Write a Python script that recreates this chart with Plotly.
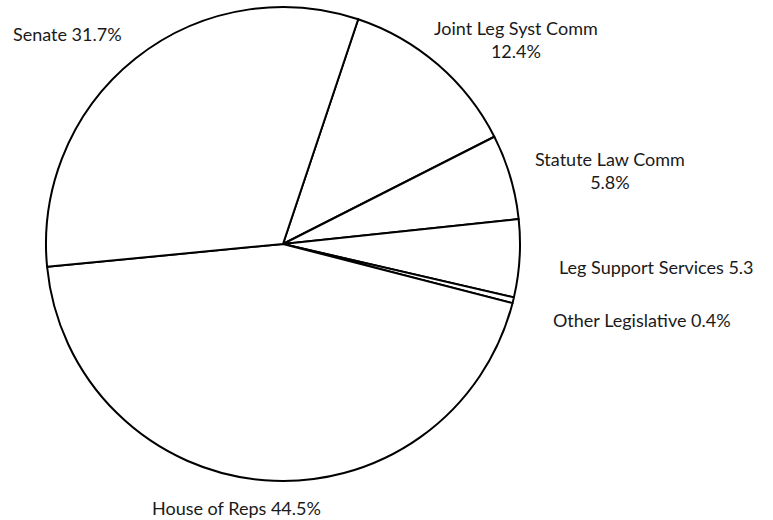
import plotly.graph_objects as go

# Legislative budget shares (percent), listed clockwise from the slice at 12 o'clock
slice_names = ["Joint Leg Syst Comm", "Statute Law Comm", "Leg Support Services",
               "Other Legislative", "House of Reps", "Senate"]
slice_values = [12.4, 5.8, 5.3, 0.4, 44.5, 31.7]
# Label wording as printed next to each slice
label_texts = ["Joint Leg Syst Comm<br>12.4%", "Statute Law Comm<br>5.8%",
               "Leg Support Services 5.3", "Other Legislative 0.4%",
               "House of Reps 44.5%", "Senate 31.7%"]

W, H = 773, 520
cx, cy, r = 283, 244, 237  # pie centre and radius in pixels

fig = go.Figure(go.Pie(
    labels=slice_names,
    values=slice_values,
    sort=False,
    direction="clockwise",
    rotation=18.5,
    textinfo="none",
    hoverinfo="label+value",
    marker=dict(colors=["white"] * len(slice_values),
                line=dict(color="black", width=2)),
    domain=dict(x=[(cx - r) / W, (cx + r) / W],
                y=[(H - cy - r) / H, (H - cy + r) / H]),
    showlegend=False,
))

# label anchor points (pixels from top-left) and horizontal alignment
label_pos = [(516, 40, "center"), (610, 171, "center"), (557, 267, "left"),
             (551, 320, "left"), (236, 508, "center"), (11, 34, "left")]

for text, (px, py, anchor) in zip(label_texts, label_pos):
    fig.add_annotation(
        x=px / W, y=1 - py / H, xref="paper", yref="paper",
        text=text, showarrow=False, xanchor=anchor, yanchor="middle",
        align="center", font=dict(family="Lato, Open Sans, sans-serif", size=18, color="#1a1a1a"),
    )

fig.update_layout(
    width=W, height=H,
    margin=dict(l=0, r=0, t=0, b=0),
    paper_bgcolor="white", plot_bgcolor="white",
)

fig.write_html("out.html")
